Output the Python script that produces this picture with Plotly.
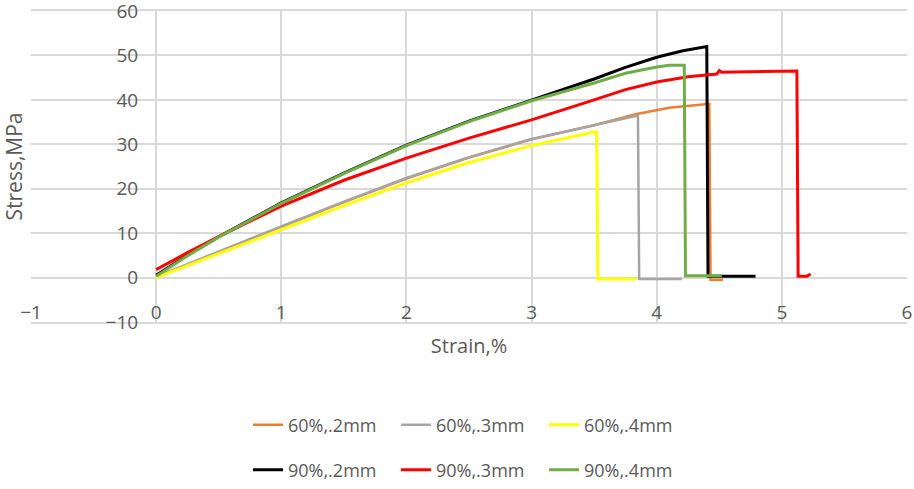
import plotly.graph_objects as go

# ---- data (strain %, stress MPa) ----
names = ["60%,.2mm", "60%,.3mm", "60%,.4mm", "90%,.2mm", "90%,.3mm", "90%,.4mm"]
colors = ["#ED7D31", "#A5A5A5", "#FFFF00", "#000000", "#FF0000", "#70AD47"]

strain_60_2 = [0, 0.5, 1, 1.5, 2, 2.5, 3, 3.5, 3.84, 4.1, 4.39, 4.42, 4.43, 4.53]
stress_60_2 = [0.1, 5.8, 11.4, 17.0, 22.3, 27.0, 31.1, 34.3, 36.8, 38.2, 39.1, 39.1, -0.5, -0.5]

strain_60_3 = [0, 0.5, 1, 1.5, 2, 2.5, 3, 3.5, 3.84, 3.85, 3.86, 4.20]
stress_60_3 = [0.2, 5.9, 11.5, 17.1, 22.4, 27.1, 31.2, 34.3, 36.5, 36.5, -0.3, -0.3]

strain_60_4 = [0, 0.5, 1, 1.5, 2, 2.5, 3, 3.3, 3.51, 3.52, 3.53, 3.84]
stress_60_4 = [0.0, 5.4, 10.8, 16.2, 21.3, 25.9, 29.7, 31.6, 32.8, 32.8, -0.3, -0.3]

strain_90_2 = [0, 0.25, 0.5, 1, 1.5, 2, 2.5, 3, 3.5, 3.75, 4, 4.2, 4.38, 4.40, 4.41, 4.79]
stress_90_2 = [0.5, 5.0, 9.2, 16.8, 23.5, 29.8, 35.2, 40.0, 44.7, 47.3, 49.6, 51.0, 52.0, 52.0, 0.3, 0.3]

strain_90_3 = [0, 0.25, 0.5, 1, 1.5, 2, 2.5, 3, 3.5, 3.75, 4, 4.25, 4.48, 4.5, 4.52, 4.8, 5.12, 5.13, 5.2, 5.23]
stress_90_3 = [1.8, 5.6, 9.2, 16.1, 21.9, 26.9, 31.4, 35.5, 40.0, 42.3, 44.0, 45.2, 45.8, 46.6, 46.2, 46.3, 46.5, 0.3, 0.3, 0.8]

strain_90_4 = [0, 0.25, 0.5, 1, 1.5, 2, 2.5, 3, 3.5, 3.75, 4.0, 4.1, 4.22, 4.23, 4.52]
stress_90_4 = [0.3, 4.9, 9.1, 16.7, 23.4, 29.7, 35.1, 39.8, 43.8, 46.0, 47.4, 47.8, 47.8, 0.4, 0.4]

strains = [strain_60_2, strain_60_3, strain_60_4, strain_90_2, strain_90_3, strain_90_4]
stresses = [stress_60_2, stress_60_3, stress_60_4, stress_90_2, stress_90_3, stress_90_4]
widths = [2.5, 2.5, 3, 3, 3, 3]

x_ticks = [-1, 0, 1, 2, 3, 4, 5, 6]
y_ticks = [-10, 0, 10, 20, 30, 40, 50, 60]

FONT = "Open Sans, DejaVu Sans, sans-serif"
TXT = "#595959"
GRID = "#D9D9D9"

fig = go.Figure()
for i, (n, c, xs, ys, w) in enumerate(zip(names, colors, strains, stresses, widths)):
    fig.add_trace(go.Scatter(
        x=xs, y=ys, mode="lines", name=n,
        line=dict(color=c, width=w),
        legend="legend" if i < 3 else "legend2",
    ))

fig.update_layout(
    width=914, height=489,
    margin=dict(l=31, r=7, t=11, b=167),
    paper_bgcolor="white", plot_bgcolor="white",
    font=dict(family=FONT, size=19, color=TXT),
    xaxis=dict(
        range=[-1, 6], tickvals=x_ticks, showgrid=True, gridcolor=GRID, gridwidth=1.5,
        zeroline=False, showline=True, linecolor=GRID, linewidth=1.5, mirror=True,
        ticks="", ticklabelposition="inside", ticklabeloverflow="allow",
        tickfont=dict(size=19, color=TXT), automargin=False,
        title=dict(text="Strain,%", font=dict(size=20, color=TXT), standoff=15),
    ),
    yaxis=dict(
        range=[-10, 60], tickvals=y_ticks, showgrid=True, gridcolor=GRID, gridwidth=1.5,
        zeroline=False, showline=False, ticks="",
        anchor="free", position=1 / 7, ticklabelstandoff=18, ticklabeloverflow="allow",
        tickfont=dict(size=19, color=TXT), automargin=False,
        title=dict(text="Stress,MPa", font=dict(size=21, color=TXT), standoff=78),
    ),
    legend=dict(orientation="h", xref="container", yref="container",
                x=0.5 + 13 / 914, xanchor="center", y=1 - 425 / 489, yanchor="middle",
                font=dict(size=18, color=TXT), entrywidth=103),
    legend2=dict(orientation="h", xref="container", yref="container",
                 x=0.5 + 13 / 914, xanchor="center", y=1 - 470 / 489, yanchor="middle",
                 font=dict(size=18, color=TXT), entrywidth=103),
    showlegend=True,
)

fig.write_html("out.html", config={"displayModeBar": False},
               post_script="document.body.style.margin='0';")
